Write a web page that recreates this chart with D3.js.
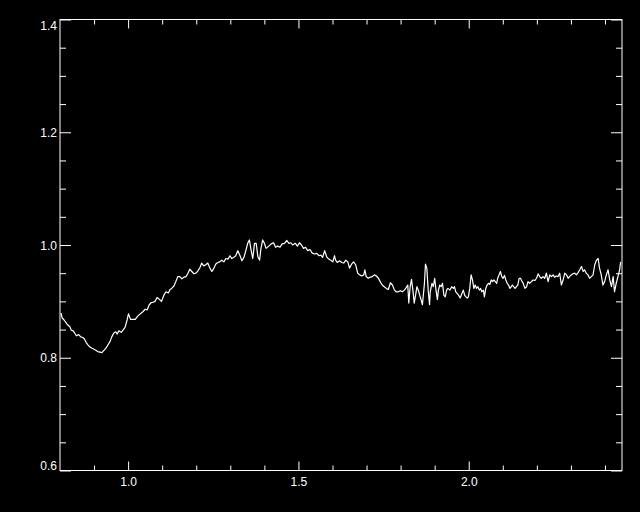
<!DOCTYPE html>
<html>
<head>
<meta charset="utf-8">
<script src="https://cdn.jsdelivr.net/npm/d3@7"></script>
<style>
  html, body { margin: 0; padding: 0; background: #000; }
  #chart text { font-family: "Liberation Sans", Arial, sans-serif; font-size: 12px; fill: #fff; }
</style>
</head>
<body>
<div id="chart"></div>
<script>
// wavelength (x)
const wave = [
  0.803, 0.806, 0.812, 0.818, 0.823, 0.829, 0.833, 0.838, 0.843, 0.848,
  0.855, 0.861, 0.867, 0.872, 0.877, 0.882, 0.888, 0.894, 0.900, 0.906,
  0.911, 0.917, 0.923, 0.929, 0.935, 0.941, 0.947, 0.952, 0.958, 0.964,
  0.968, 0.973, 0.980, 0.985, 0.991, 0.997, 1.001, 1.007, 1.014, 1.021,
  1.027, 1.032, 1.038, 1.044, 1.050, 1.056, 1.062, 1.068,
  1.072, 1.079, 1.085, 1.091, 1.098, 1.105, 1.111, 1.118, 1.123, 1.128,
  1.134, 1.140, 1.146, 1.152, 1.158, 1.164, 1.170, 1.175, 1.181, 1.187,
  1.193, 1.199, 1.205, 1.211, 1.216, 1.222, 1.228, 1.234, 1.240, 1.246,
  1.252, 1.257, 1.263, 1.269, 1.275, 1.281, 1.287, 1.293, 1.299, 1.304,
  1.310, 1.316, 1.322, 1.328, 1.334, 1.340,
  1.346, 1.351, 1.356, 1.361, 1.366, 1.371, 1.376, 1.381, 1.386, 1.390,
  1.395, 1.400, 1.405, 1.413, 1.420, 1.427, 1.433, 1.439, 1.446, 1.452,
  1.459, 1.466, 1.472, 1.478, 1.483, 1.491, 1.497, 1.503, 1.509, 1.515,
  1.521, 1.527, 1.534, 1.540, 1.547, 1.554, 1.560, 1.566, 1.571, 1.577,
  1.583, 1.589, 1.595, 1.601, 1.606,
  1.609, 1.614, 1.621, 1.627, 1.633, 1.639, 1.645, 1.650, 1.656, 1.662,
  1.668, 1.674, 1.680, 1.686, 1.692, 1.695, 1.699, 1.705, 1.711, 1.717,
  1.723, 1.729, 1.735, 1.740, 1.746, 1.752, 1.758, 1.764, 1.770, 1.776,
  1.782, 1.787, 1.793, 1.799, 1.805, 1.811, 1.817, 1.821, 1.824, 1.828,
  1.832, 1.836, 1.840, 1.844, 1.848, 1.852, 1.856, 1.860, 1.864, 1.870,
  1.873, 1.877, 1.881, 1.885, 1.887,
  1.892, 1.896, 1.900, 1.904, 1.908, 1.911, 1.915, 1.919, 1.923, 1.927,
  1.931, 1.935, 1.939, 1.945, 1.950, 1.955, 1.958, 1.962, 1.966, 1.970,
  1.975, 1.980, 1.984, 1.988, 1.992, 1.996, 1.999, 2.003, 2.007, 2.011,
  2.015, 2.019, 2.023, 2.027, 2.031, 2.035, 2.038, 2.043, 2.046, 2.050,
  2.054, 2.058, 2.062, 2.066, 2.070, 2.074, 2.078, 2.082, 2.085, 2.089,
  2.093, 2.097, 2.101, 2.105, 2.109, 2.113, 2.117, 2.121, 2.125, 2.128,
  2.132, 2.136, 2.140, 2.144, 2.148, 2.152,
  2.155, 2.160, 2.165, 2.170, 2.174, 2.179, 2.184, 2.189, 2.194, 2.199,
  2.204, 2.208, 2.213, 2.218, 2.223, 2.228, 2.233, 2.238, 2.243, 2.248,
  2.252, 2.257, 2.262, 2.267, 2.272, 2.277, 2.282, 2.287, 2.292, 2.296,
  2.301, 2.306, 2.311, 2.316, 2.321, 2.326, 2.331, 2.336, 2.340, 2.345,
  2.350, 2.355, 2.360, 2.365, 2.370, 2.375, 2.380, 2.384, 2.389, 2.394,
  2.399, 2.404, 2.409, 2.414, 2.419, 2.424, 2.428, 2.433, 2.438, 2.443,
  2.446
]

// ratio (y) for each wavelength
const ratio = [
  0.879, 0.871, 0.867, 0.862, 0.858, 0.855, 0.849, 0.848, 0.844, 0.839,
  0.841, 0.837, 0.836, 0.833, 0.827, 0.823, 0.819, 0.817, 0.815, 0.813,
  0.811, 0.810, 0.809, 0.813, 0.817, 0.823, 0.829, 0.837, 0.844, 0.846,
  0.842, 0.848, 0.845, 0.849, 0.854, 0.867, 0.878, 0.868, 0.868, 0.868,
  0.873, 0.876, 0.879, 0.882, 0.886, 0.885, 0.894, 0.898,
  0.898, 0.900, 0.907, 0.904, 0.900, 0.911, 0.917, 0.915, 0.921, 0.923,
  0.927, 0.935, 0.944, 0.944, 0.940, 0.943, 0.944, 0.949, 0.957, 0.953,
  0.949, 0.950, 0.954, 0.960, 0.968, 0.963, 0.965, 0.968, 0.959, 0.953,
  0.959, 0.966, 0.969, 0.970, 0.973, 0.970, 0.976, 0.975, 0.981, 0.976,
  0.978, 0.981, 0.990, 0.982, 0.972, 0.978,
  0.991, 1.003, 1.009, 0.991, 0.976, 1.003, 1.003, 0.979, 0.973, 0.994,
  1.009, 1.003, 0.994, 0.998, 1.002, 1.004, 0.996, 0.998, 0.996, 1.002,
  1.003, 1.008, 1.003, 1.004, 1.000, 1.003, 0.998, 1.004, 1.000, 0.994,
  0.996, 0.990, 0.992, 0.986, 0.984, 0.985, 0.981, 0.982, 0.978, 0.990,
  0.979, 0.975, 0.973, 0.970, 0.981,
  0.973, 0.969, 0.972, 0.969, 0.968, 0.973, 0.970, 0.959, 0.966, 0.970,
  0.965, 0.950, 0.947, 0.945, 0.947, 0.956, 0.944, 0.941, 0.943, 0.944,
  0.947, 0.945, 0.941, 0.935, 0.929, 0.926, 0.923, 0.921, 0.933, 0.929,
  0.920, 0.917, 0.917, 0.919, 0.917, 0.920, 0.925, 0.929, 0.897, 0.926,
  0.939, 0.920, 0.897, 0.911, 0.926, 0.920, 0.911, 0.903, 0.894, 0.932,
  0.966, 0.959, 0.920, 0.894, 0.917,
  0.932, 0.926, 0.941, 0.920, 0.903, 0.920, 0.929, 0.926, 0.932, 0.911,
  0.908, 0.920, 0.923, 0.920, 0.926, 0.923, 0.926, 0.917, 0.914, 0.911,
  0.906, 0.914, 0.920, 0.911, 0.908, 0.906, 0.908, 0.923, 0.947, 0.938,
  0.923, 0.929, 0.923, 0.926, 0.920, 0.923, 0.917, 0.920, 0.908, 0.923,
  0.929, 0.932, 0.930, 0.938, 0.935, 0.938, 0.935, 0.932, 0.941, 0.947,
  0.953, 0.944, 0.941, 0.946, 0.938, 0.932, 0.929, 0.923, 0.926, 0.929,
  0.926, 0.923, 0.926, 0.929, 0.941, 0.941,
  0.937, 0.932, 0.923, 0.926, 0.935, 0.932, 0.935, 0.938, 0.937, 0.941,
  0.949, 0.944, 0.941, 0.944, 0.941, 0.950, 0.935, 0.947, 0.944, 0.947,
  0.943, 0.945, 0.944, 0.950, 0.929, 0.938, 0.950, 0.947, 0.941, 0.944,
  0.947, 0.949, 0.950, 0.947, 0.951, 0.956, 0.962, 0.953, 0.956, 0.950,
  0.947, 0.941, 0.944, 0.947, 0.965, 0.973, 0.976, 0.959, 0.947, 0.929,
  0.935, 0.947, 0.956, 0.938, 0.926, 0.944, 0.917, 0.932, 0.944, 0.956,
  0.970
]

const xMajor = [1.0, 1.5, 2.0]
const xMinor = [0.9, 1.1, 1.2, 1.3, 1.4, 1.6, 1.7, 1.8, 1.9, 2.1, 2.2, 2.3, 2.4]
const yMajor = [0.6, 0.8, 1.0, 1.2, 1.4]
const yMinor = [0.65, 0.7, 0.75, 0.85, 0.9, 0.95, 1.05, 1.1, 1.15, 1.25, 1.3, 1.35]

const width = 640
const height = 512
const plotLeft = 60
const plotRight = 622
const plotTop = 19.5
const plotBottom = 470.5

const svg = d3
  .select('#chart')
  .append('svg')
  .attr('width', width)
  .attr('height', height)
  .style('background', '#000')
  .style('display', 'block')

const x = d3.scaleLinear().domain([0.8, 2.45]).range([plotLeft, plotRight])
const y = d3.scaleLinear().domain([0.6, 1.4]).range([plotBottom, plotTop])

// clip for the spectrum
svg
  .append('clipPath')
  .attr('id', 'plot-clip')
  .append('rect')
  .attr('x', plotLeft)
  .attr('y', plotTop)
  .attr('width', plotRight - plotLeft)
  .attr('height', plotBottom - plotTop)

const points = d3.zip(wave, ratio)

const line = d3
  .line()
  .x((d) => x(d[0]))
  .y((d) => y(d[1]))

svg
  .append('path')
  .datum(points)
  .attr('clip-path', 'url(#plot-clip)')
  .attr('fill', 'none')
  .attr('stroke', '#fff')
  .attr('stroke-width', 1.2)
  .attr('stroke-linejoin', 'round')
  .attr('d', line)

// helper: add an axis with inward ticks
const addAxis = (axis, tx, ty) => {
  const g = svg
    .append('g')
    .attr('transform', `translate(${tx},${ty})`)
    .call(axis)
  g.select('.domain').remove()
  g.selectAll('line').attr('stroke', '#fff').attr('stroke-width', 1)
  g.selectAll('text').attr('fill', '#fff').attr('font-size', null).attr('font-family', null)
  return g
}

// bottom
addAxis(d3.axisBottom(x).tickValues(xMinor).tickSize(-5).tickFormat(''), 0, plotBottom)
addAxis(
  d3.axisBottom(x).tickValues(xMajor).tickSize(-9).tickPadding(7).tickFormat(d3.format('.1f')),
  0,
  plotBottom
)
// top
addAxis(d3.axisTop(x).tickValues(xMinor).tickSize(-5).tickFormat(''), 0, plotTop)
addAxis(d3.axisTop(x).tickValues(xMajor).tickSize(-9).tickFormat(''), 0, plotTop)
// left
addAxis(d3.axisLeft(y).tickValues(yMinor).tickSize(-6).tickFormat(''), plotLeft, 0)
const yLab = addAxis(
  d3.axisLeft(y).tickValues(yMajor).tickSize(-11).tickPadding(3).tickFormat(d3.format('.1f')),
  plotLeft,
  0
)
// keep the end labels inside the axis span
yLab.selectAll('text').attr('dy', (d) => (d === 1.4 ? '0.85em' : d === 0.6 ? '-0.1em' : '0.35em'))
// right
addAxis(d3.axisRight(y).tickValues(yMinor).tickSize(-6).tickFormat(''), plotRight, 0)
addAxis(d3.axisRight(y).tickValues(yMajor).tickSize(-11).tickFormat(''), plotRight, 0)

// frame
svg
  .append('rect')
  .attr('x', plotLeft)
  .attr('y', plotTop)
  .attr('width', plotRight - plotLeft)
  .attr('height', plotBottom - plotTop)
  .attr('fill', 'none')
  .attr('stroke', '#fff')
  .attr('stroke-width', 1)
</script>
</body>
</html>
